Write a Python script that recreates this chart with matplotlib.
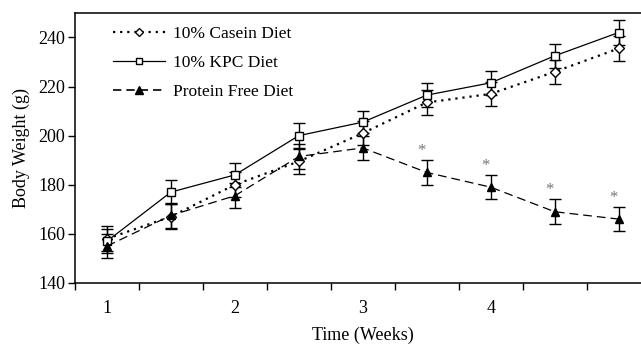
import matplotlib.pyplot as plt
from matplotlib.lines import Line2D
import numpy as np

plt.rcParams["font.family"] = ["Liberation Serif", "DejaVu Serif"]

# half-week sampling points (category axis)
weeks = np.arange(9)
week_ticks = [0, 2, 4, 6]
week_labels = ["1", "2", "3", "4"]

casein = [158, 167, 180, 189.5, 201, 213.5, 217, 226, 235.5]
casein_err = [5, 5, 5, 5, 5, 5, 5, 5, 5]
kpc = [157, 177, 184, 200, 205.5, 216.5, 221.5, 232.5, 242]
kpc_err = [5, 5, 5, 5, 4.5, 5, 5, 5, 5]
protein_free = [155, 167.5, 175.5, 191.5, 195, 185, 179, 169, 166]
protein_free_err = [5, 5, 5, 5, 5, 5, 5, 5, 5]
significant = [5, 6, 7, 8]

DOTTED = (0, (1, 2.2))
DASHED = (0, (7, 4))


def main():
    fig = plt.figure(figsize=(6.41, 3.48), dpi=100)
    ax = fig.add_axes([0.117, 0.187, 0.898, 0.776])

    common = dict(color="black", ecolor="black", elinewidth=1, capsize=4,
                  capthick=1, mec="black", zorder=3)
    ax.errorbar(weeks, casein, yerr=casein_err, lw=1.6, linestyle=DOTTED,
                marker="D", ms=5, mfc="white", mew=1, **common)
    ax.errorbar(weeks, kpc, yerr=kpc_err, lw=0.9, linestyle="-",
                marker="s", ms=5.5, mfc="white", mew=1, **common)
    ax.errorbar(weeks, protein_free, yerr=protein_free_err, lw=0.9,
                linestyle=DASHED, marker="^", ms=6, mfc="black", **common)

    for i in significant:
        ax.text(weeks[i] - 0.09, protein_free[i] + protein_free_err[i] + 0.5,
                "*", ha="center", va="bottom", fontsize=12, color="#777777")

    ax.set_xlim(-0.5, 8.5)
    ax.set_ylim(140, 250)
    ax.set_yticks([140, 160, 180, 200, 220, 240])
    ax.set_xticks(np.arange(-0.5, 8.5, 1.0))
    ax.set_xticklabels([])
    ax.set_xticks(week_ticks, minor=True)
    ax.set_xticklabels(week_labels, minor=True)
    ax.tick_params(axis="x", which="minor", length=0, pad=12, labelsize=13)
    ax.tick_params(axis="x", which="major", direction="out", length=5, width=1)
    ax.tick_params(axis="y", direction="out", length=5, width=1, labelsize=13, pad=2)

    for side in ["left", "bottom", "top", "right"]:
        ax.spines[side].set_linewidth(1.1)

    ax.set_xlabel("Time (Weeks)", fontsize=13, labelpad=7)
    ax.set_ylabel("Body Weight (g)", fontsize=13, labelpad=6)

    handles = [
        Line2D([], [], color="black", lw=1.6, linestyle=DOTTED, marker="D",
               ms=4, mfc="white", mec="black", mew=1),
        Line2D([], [], color="black", lw=0.9, linestyle="-", marker="s",
               ms=4.5, mfc="white", mec="black", mew=1),
        Line2D([], [], color="black", lw=1.2, linestyle=(0, (5, 3)), marker="^",
               ms=6, mfc="black", mec="black"),
    ]
    labels = ["10% Casein Diet", "10% KPC Diet", "Protein Free Diet"]
    ax.legend(handles, labels, loc="upper left", bbox_to_anchor=(0.048, 0.99),
              frameon=False, fontsize=12.5, handlelength=3.0, handletextpad=0.45,
              labelspacing=0.75, borderaxespad=0.2)

    fig.savefig("out.png", dpi=100)


if __name__ == "__main__":
    main()
